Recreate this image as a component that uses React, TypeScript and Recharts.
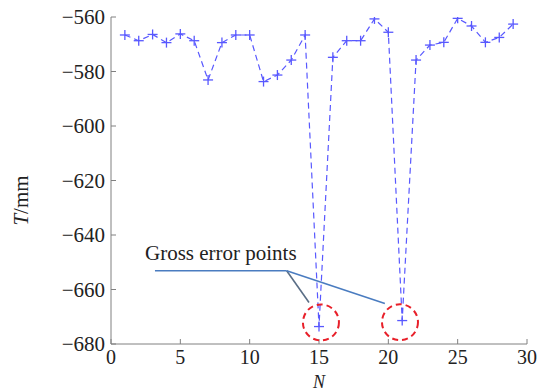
import React from 'react';
import {
  LineChart,
  Line,
  XAxis,
  YAxis,
  ReferenceDot,
  ReferenceLine,
} from 'recharts';

const nValues = [
  1, 2, 3, 4, 5, 6, 7, 8, 9, 10, 11, 12, 13, 14, 15, 16, 17, 18, 19, 20, 21, 22, 23, 24, 25, 26, 27, 28, 29,
];
const tValues = [
  -566.6, -568.7, -566.4, -569.4, -566.2, -568.7, -583.1, -569.4, -566.6, -566.6, -583.7, -581.3, -575.8,
  -566.6, -673.6, -574.8, -568.7, -568.7, -560.7, -565.6, -671.4, -575.8, -570.3, -569.3, -560.5, -563.3,
  -569.3, -567.5, -562.6,
];
const xTicks = [0, 5, 10, 15, 20, 25, 30];
const yTicks = [-680, -660, -640, -620, -600, -580, -560];

// gross error circles and the callout
const grossCircles = [
  { n: 15.14, t: -672.1 },
  { n: 20.84, t: -672.0 },
];
const calloutText = { n: 2.45, t: -649.2, label: 'Gross error points' };
const calloutLines = [
  { from: { n: 3.17, t: -653.1 }, to: { n: 12.67, t: -653.1 }, color: '#4a7cc0' },
  { from: { n: 12.67, t: -653.1 }, to: { n: 14.28, t: -664.8 }, color: '#5a6e86' },
  { from: { n: 12.67, t: -653.1 }, to: { n: 19.75, t: -665.1 }, color: '#4a7cc0' },
];

const data = nValues.map((n, i) => ({ n, t: tValues[i] }));

const FONT = 'Liberation Serif, Times New Roman, serif';
const AXIS_COLOR = '#808080';
const LINE_COLOR = '#5858ff';
const FS = 21;

const PlusDot = (props: any) => {
  const { cx, cy } = props;
  if (cx == null || cy == null) return null;
  return (
    <g>
      <line x1={cx - 5} y1={cy} x2={cx + 5} y2={cy} stroke={LINE_COLOR} strokeWidth={1.3} />
      <line x1={cx} y1={cy - 5} x2={cx} y2={cy + 5} stroke={LINE_COLOR} strokeWidth={1.3} />
    </g>
  );
};

const YLabel = (props: any) => {
  const { viewBox } = props;
  const cx = 21;
  const cy = viewBox.y + viewBox.height / 2 + 20;
  return (
    <text
      x={cx}
      y={cy}
      transform={`rotate(-90, ${cx}, ${cy})`}
      textAnchor="middle"
      dominantBaseline="central"
      fontFamily={FONT}
      fontSize={FS}
      fill="#222"
    >
      <tspan fontStyle="italic">T</tspan>/mm
    </text>
  );
};

const XLabel = (props: any) => {
  const { viewBox } = props;
  return (
    <text
      x={viewBox.x + viewBox.width / 2}
      y={388}
      textAnchor="middle"
      fontFamily={FONT}
      fontStyle="italic"
      fontSize={18}
      fill="#222"
    >
      N
    </text>
  );
};

const tickStyle = { fontFamily: FONT, fontSize: FS, fill: '#222' };
const xTickStyle = { fontFamily: FONT, fontSize: 20, fill: '#222' };

export default function App() {
  return (
    <div style={{ position: 'absolute', left: 0, top: 0, background: '#fff' }}>
      <LineChart width={541} height={392} data={data} margin={{ top: 17, right: 14, bottom: 0, left: 0 }}>
        <XAxis
          xAxisId="b"
          dataKey="n"
          type="number"
          domain={[0, 30]}
          ticks={xTicks}
          height={48}
          tickSize={-5}
          tickMargin={11}
          stroke={AXIS_COLOR}
          tick={xTickStyle}
          interval={0}
          allowDataOverflow
          label={<XLabel />}
        />
        <XAxis
          xAxisId="t"
          orientation="top"
          dataKey="n"
          type="number"
          domain={[0, 30]}
          ticks={xTicks}
          height={0}
          tickSize={-5}
          tickFormatter={() => ''}
          stroke={AXIS_COLOR}
          allowDataOverflow
        />
        <YAxis
          yAxisId="l"
          type="number"
          domain={[-680, -560]}
          ticks={yTicks}
          width={111}
          tickSize={-5}
          tickMargin={11}
          stroke={AXIS_COLOR}
          tick={tickStyle}
          interval={0}
          tickFormatter={(v: number) => String(v).replace('-', '\u2212')}
          allowDataOverflow
          label={<YLabel />}
        />
        <YAxis
          yAxisId="r"
          orientation="right"
          type="number"
          domain={[-680, -560]}
          ticks={yTicks}
          width={0}
          tickSize={-5}
          tickFormatter={() => ''}
          stroke={AXIS_COLOR}
          allowDataOverflow
        />
        {calloutLines.map((s, i) => (
          <ReferenceLine
            key={i}
            xAxisId="b"
            yAxisId="l"
            segment={[
              { x: s.from.n, y: s.from.t },
              { x: s.to.n, y: s.to.t },
            ]}
            stroke={s.color}
            strokeWidth={1.6}
          />
        ))}
        <Line
          xAxisId="b"
          yAxisId="l"
          dataKey="t"
          stroke={LINE_COLOR}
          strokeWidth={1.2}
          strokeDasharray="6 4"
          dot={<PlusDot />}
          activeDot={false}
          isAnimationActive={false}
        />
        {grossCircles.map((c, i) => (
          <ReferenceDot
            key={i}
            xAxisId="b"
            yAxisId="l"
            x={c.n}
            y={c.t}
            r={18}
            fill="none"
            stroke="#e8202a"
            strokeWidth={2}
            strokeDasharray="6 4"
          />
        ))}
        <ReferenceDot
          xAxisId="b"
          yAxisId="l"
          x={calloutText.n}
          y={calloutText.t}
          r={0}
          shape={(p: any) => (
            <text x={p.cx} y={p.cy} fontFamily={FONT} fontSize={FS} fill="#222">
              {calloutText.label}
            </text>
          )}
        />
      </LineChart>
    </div>
  );
}
